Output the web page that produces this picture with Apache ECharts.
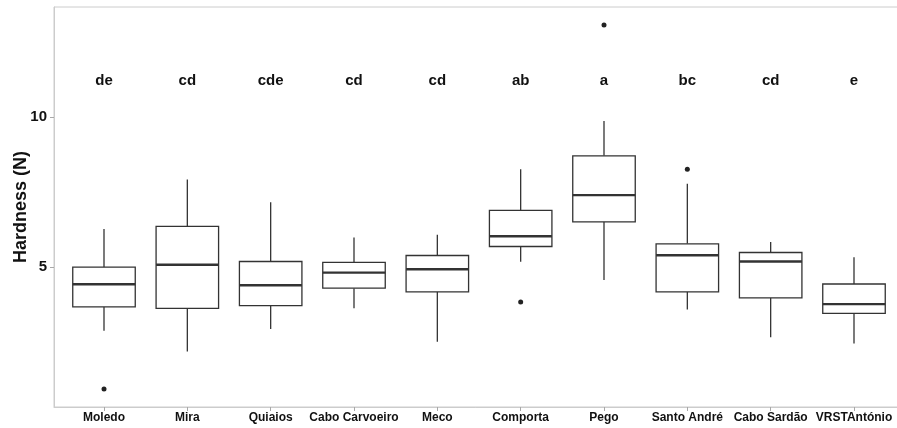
<!DOCTYPE html>
<html>
<head>
<meta charset="utf-8">
<script src="https://cdn.jsdelivr.net/npm/echarts@6/dist/echarts.min.js"></script>
<style>
html,body{margin:0;padding:0;background:#fff;}
#chart{width:897px;height:428px;}
</style>
</head>
<body>
<div id="chart"></div>
<script>
const categories = ['Moledo','Mira','Quiaios','Cabo Carvoeiro','Meco','Comporta','Pego','Santo André','Cabo Sardão','VRSTAntónio'];
const lowWhisker  = [2.87, 2.18, 2.93, 3.62, 2.51, 5.17, 4.56, 3.58, 2.66, 2.45];
const q1Values    = [3.67, 3.62, 3.71, 4.29, 4.17, 5.68, 6.50, 4.17, 3.97, 3.45];
const medianValues= [4.42, 5.07, 4.39, 4.81, 4.92, 6.02, 7.39, 5.39, 5.18, 3.76];
const q3Values    = [4.99, 6.35, 5.18, 5.15, 5.38, 6.88, 8.70, 5.77, 5.48, 4.43];
const highWhisker = [6.26, 7.91, 7.15, 5.98, 6.07, 8.25, 9.86, 7.77, 5.83, 5.32];
const outliers    = [[0, 0.93], [5, 3.83], [6, 13.06], [7, 8.25]];
const letters     = ['de','cd','cde','cd','cd','ab','a','bc','cd','e'];
const letterY     = 11.2;
const yTicks      = [5, 10];

const BOX_W = 0.75;
const STROKE = '#333333';
const FONT = 'Liberation Sans, Arial, sans-serif';

const boxData = categories.map((c, i) => [i, lowWhisker[i], q1Values[i], medianValues[i], q3Values[i], highWhisker[i]]);
const letterData = letters.map((l, i) => [i, letterY]);
const catIdx = categories.map((c, i) => i);

const chart = echarts.init(document.getElementById('chart'));
chart.setOption({
  animation: false,
  backgroundColor: '#ffffff',
  grid: {
    left: 54, top: 7, bottom: 21, right: -7,
    containLabel: false,
    outerBoundsMode: 'none',
    show: true, borderColor: '#cccccc', borderWidth: 1, backgroundColor: '#ffffff'
  },
  xAxis: {
    type: 'value',
    min: -0.6, max: 9.6,
    splitLine: { show: false },
    axisLine: { show: true, onZero: false, lineStyle: { color: '#cccccc', width: 1 } },
    axisTick: { show: true, length: 4, customValues: catIdx, lineStyle: { color: '#a8a8a8', width: 1 } },
    axisLabel: {
      customValues: catIdx,
      formatter: v => categories[Math.round(v)] || '',
      margin: 5,
      fontFamily: FONT,
      fontWeight: 'bold', fontSize: 12, color: '#111111'
    }
  },
  yAxis: {
    type: 'value',
    min: 0.333, max: 13.657,
    name: 'Hardness (N)',
    nameLocation: 'middle',
    nameGap: 24,
    nameMoveOverlap: false,
    nameTextStyle: { fontFamily: FONT, fontWeight: 'bold', fontSize: 18, color: '#111111' },
    splitLine: { show: false },
    axisLine: { show: true, onZero: false, lineStyle: { color: '#cccccc', width: 1 } },
    axisTick: { show: true, length: 4, customValues: yTicks, lineStyle: { color: '#a8a8a8', width: 1 } },
    axisLabel: {
      customValues: yTicks,
      margin: 7,
      fontFamily: FONT,
      fontWeight: 'bold', fontSize: 15, color: '#111111'
    }
  },
  series: [
    {
      type: 'custom',
      data: boxData,
      encode: { x: 0, y: [1, 2, 3, 4, 5] },
      renderItem: function (params, api) {
        const x = api.value(0);
        const lo = api.coord([x, api.value(1)]);
        const q1 = api.coord([x, api.value(2)]);
        const md = api.coord([x, api.value(3)]);
        const q3 = api.coord([x, api.value(4)]);
        const hi = api.coord([x, api.value(5)]);
        const half = api.size([BOX_W, 0])[0] / 2;
        const cx = q1[0];
        const ls = { stroke: STROKE, lineWidth: 1.3, fill: null };
        return {
          type: 'group',
          children: [
            { type: 'line', shape: { x1: cx, y1: lo[1], x2: cx, y2: q1[1] }, style: ls },
            { type: 'line', shape: { x1: cx, y1: q3[1], x2: cx, y2: hi[1] }, style: ls },
            { type: 'rect', shape: { x: cx - half, y: q3[1], width: half * 2, height: q1[1] - q3[1] }, style: { stroke: STROKE, lineWidth: 1.3, fill: '#ffffff' } },
            { type: 'line', shape: { x1: cx - half, y1: md[1], x2: cx + half, y2: md[1] }, style: { stroke: STROKE, lineWidth: 2.4 } }
          ]
        };
      }
    },
    {
      type: 'scatter',
      data: outliers,
      symbolSize: 5,
      itemStyle: { color: '#222222', opacity: 1 }
    },
    {
      type: 'custom',
      data: letterData,
      encode: { x: 0, y: 1 },
      renderItem: function (params, api) {
        const p = api.coord([api.value(0), api.value(1)]);
        return {
          type: 'text',
          x: p[0], y: p[1],
          style: {
            text: letters[params.dataIndex],
            fill: '#111111',
            font: 'bold 15px ' + FONT,
            align: 'center',
            verticalAlign: 'middle'
          }
        };
      }
    }
  ]
});
</script>
</body>
</html>
